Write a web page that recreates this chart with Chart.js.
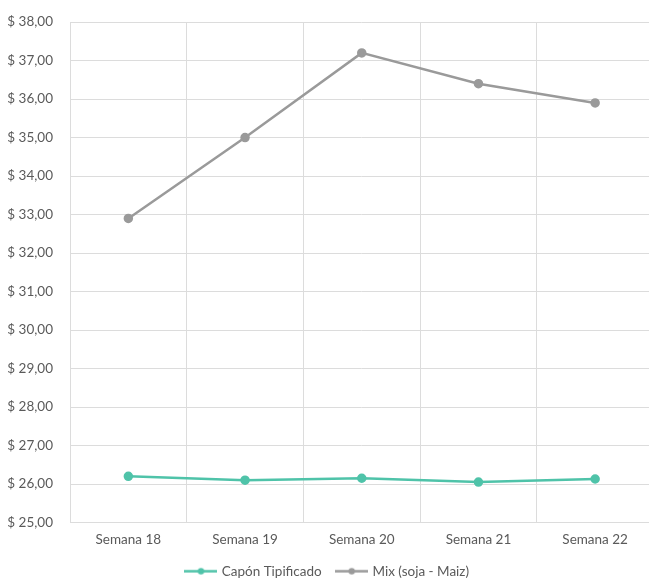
<!DOCTYPE html>
<html>
<head>
<meta charset="utf-8">
<script src="https://cdn.jsdelivr.net/npm/chart.js@4/dist/chart.umd.min.js"></script>
<style>
  html, body { margin: 0; padding: 0; background: #fff; overflow: hidden; }
  #wrap { position: relative; top: -3.5px; width: 660px; height: 583px; }
</style>
</head>
<body>
<div id="wrap"><canvas id="c"></canvas></div>
<script>
const categories = ['Semana 18', 'Semana 19', 'Semana 20', 'Semana 21', 'Semana 22'];
const caponValues = [26.2, 26.1, 26.15, 26.05, 26.13];
const mixValues = [32.9, 35.0, 37.2, 36.4, 35.9];
const seriesNames = ['Capón Tipificado', 'Mix (soja - Maiz)'];
const yMin = 25, yMax = 38, yStep = 1;

const tealColor = '#4fc3a9';
const greyColor = '#9a9a9a';
const textColor = '#5a5a5a';
const gridColor = '#dcdcdc';

function legendIcon(color) {
  const c = document.createElement('canvas');
  c.width = 33; c.height = 9;
  const g = c.getContext('2d');
  g.strokeStyle = color; g.lineWidth = 2.5;
  g.beginPath(); g.moveTo(0, 4.5); g.lineTo(33, 4.5); g.stroke();
  g.fillStyle = color;
  g.beginPath(); g.arc(16.5, 4.5, 3.2, 0, Math.PI * 2); g.fill();
  return c;
}

const fontFamily = 'Lato, "Open Sans", sans-serif';
const fontSize = 13.5;

new Chart(document.getElementById('c'), {
  type: 'line',
  data: {
    labels: categories,
    datasets: [
      {
        label: seriesNames[0],
        data: caponValues,
        borderColor: tealColor,
        backgroundColor: tealColor,
        borderWidth: 2.5,
        pointRadius: 3.5,
        pointBackgroundColor: tealColor,
        pointBorderColor: tealColor,
        pointStyle: 'circle',
        tension: 0
      },
      {
        label: seriesNames[1],
        data: mixValues,
        borderColor: greyColor,
        backgroundColor: greyColor,
        borderWidth: 2.5,
        pointRadius: 3.5,
        pointBackgroundColor: greyColor,
        pointBorderColor: greyColor,
        pointStyle: 'circle',
        tension: 0
      }
    ]
  },
  options: {
    responsive: true,
    maintainAspectRatio: false,
    animation: false,
    layout: { padding: { top: 13, right: 4, left: 0, bottom: -8 } },
    plugins: {
      tooltip: { enabled: false },
      legend: {
        position: 'bottom',
        labels: {
          usePointStyle: true,
          pointStyleWidth: 28,
          padding: 16,
          color: textColor,
          font: { family: fontFamily, size: fontSize },
          generateLabels: (chart) => chart.data.datasets.map((ds, i) => ({
            text: ds.label,
            pointStyle: legendIcon(ds.borderColor),
            fillStyle: ds.borderColor,
            strokeStyle: ds.borderColor,
            lineWidth: 0,
            fontColor: textColor,
            datasetIndex: i,
            hidden: false
          }))
        }
      }
    },
    scales: {
      x: {
        offset: true,
        grid: { offset: true, color: gridColor, lineWidth: 1, drawTicks: false },
        border: { display: true, color: gridColor },
        ticks: { color: textColor, font: { family: fontFamily, size: fontSize }, padding: 9, maxRotation: 0 },
        afterFit: (s) => { s.height = 26; }
      },
      y: {
        min: yMin,
        max: yMax,
        grid: { color: gridColor, lineWidth: 1, drawTicks: false },
        border: { display: false },
        ticks: {
          stepSize: yStep,
          color: textColor,
          font: { family: fontFamily, size: fontSize },
          padding: 17,
          callback: (v) => '$ ' + Number(v).toFixed(2).replace('.', ',')
        },
        afterFit: (s) => { s.width = 70; }
      }
    }
  }
});
</script>
</body>
</html>
